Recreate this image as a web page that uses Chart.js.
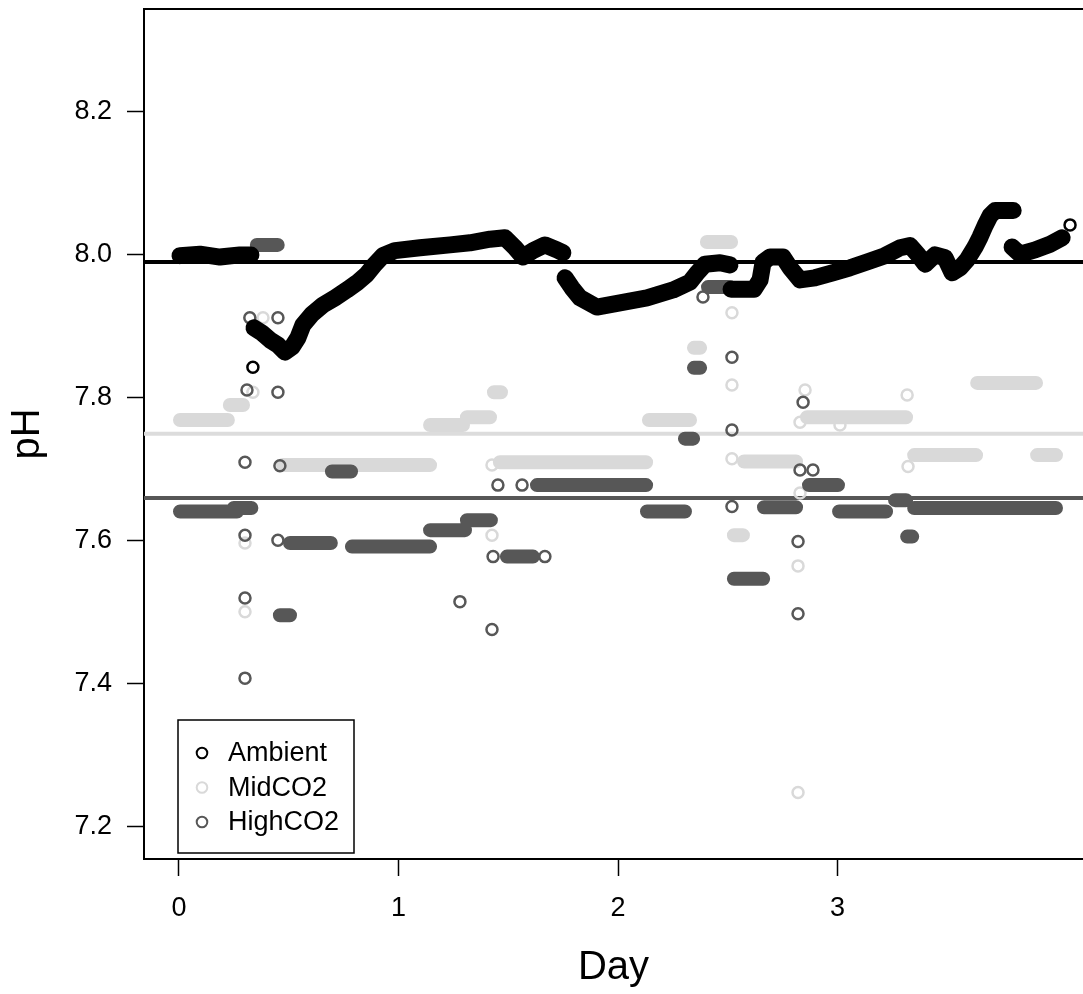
<!DOCTYPE html>
<html>
<head>
<meta charset="utf-8">
<script src="https://cdn.jsdelivr.net/npm/chart.js@4.4.0/dist/chart.umd.min.js"></script>
<style>
  html, body { margin: 0; padding: 0; background: #fff; overflow: hidden; }
  #wrap { width: 1083px; height: 994px; }
</style>
</head>
<body>
<div id="wrap"><canvas id="phChart"></canvas></div>
<script>
// Axis ticks
const dayTicks = [0, 1, 2, 3];
const phTicks = [7.2, 7.4, 7.6, 7.8, 8.0, 8.2];

// Target pH of each treatment (horizontal lines)
const ambientTarget = 7.99;
const midTarget = 7.75;
const highTarget = 7.66;

// Ambient tank trace, null pH = break in the record
const ambientDay = [0.005, 0.096, 0.187, 0.278, 0.328, 0.33,
  0.342, 0.378, 0.415, 0.451, 0.483, 0.515, 0.542, 0.565, 0.606, 0.656, 0.711, 0.765, 0.811, 0.856,
  0.893, 0.929, 0.984, 1.098, 1.235, 1.326, 1.417, 1.485, 1.531, 1.567, 1.613, 1.667, 1.722, 1.749, 1.75,
  1.759, 1.790, 1.827, 1.904, 2.009, 2.132, 2.251, 2.328, 2.364, 2.396, 2.465, 2.510, 2.51,
  2.515, 2.620, 2.647, 2.661, 2.692, 2.752, 2.784, 2.829, 2.897, 2.979, 3.057, 3.134, 3.216, 3.285,
  3.330, 3.367, 3.399, 3.444, 3.490, 3.522, 3.558, 3.590, 3.626, 3.649, 3.672, 3.695, 3.718, 3.800, 3.80,
  3.795, 3.831, 3.900, 3.968, 4.023];
const ambientPH = [7.999, 8.001, 7.997, 8.0, 8.0, null,
  7.898, 7.891, 7.881, 7.874, 7.864, 7.871, 7.884, 7.902, 7.917, 7.930, 7.940, 7.951, 7.961, 7.973,
  7.987, 7.999, 8.006, 8.010, 8.014, 8.017, 8.022, 8.024, 8.010, 7.997, 8.006, 8.014, 8.007, 8.003, null,
  7.968, 7.954, 7.940, 7.927, 7.933, 7.940, 7.951, 7.962, 7.976, 7.987, 7.989, 7.986, null,
  7.952, 7.952, 7.965, 7.990, 7.997, 7.997, 7.982, 7.965, 7.968, 7.975, 7.982, 7.990, 7.999, 8.010,
  8.013, 8.0, 7.987, 8.0, 7.996, 7.975, 7.982, 7.993, 8.011, 8.025, 8.041, 8.055, 8.062, 8.062, null,
  8.011, 8.001, 8.007, 8.015, 8.024];
const ambientPtDay = [0.337, 4.059];
const ambientPtPH = [7.843, 8.042];

// MidCO2: runs of equal readings (start day, end day, pH) and single readings
const midRunStart = [0.005, 0.232, 0.474, 1.144, 1.312, 1.435, 1.462, 2.141, 2.346, 2.405, 2.528, 2.574, 2.861, 3.349, 3.636, 3.909];
const midRunEnd   = [0.223, 0.292, 1.144, 1.294, 1.417, 1.467, 2.128, 2.328, 2.374, 2.515, 2.569, 2.811, 3.312, 3.631, 3.904, 3.995];
const midRunPH    = [7.769, 7.790, 7.706, 7.762, 7.773, 7.808, 7.710, 7.769, 7.870, 8.018, 7.608, 7.711, 7.773, 7.720, 7.821, 7.720];
const midPtDay = [0.383, 0.337, 0.301, 0.301, 1.426, 1.426, 2.519, 2.519, 2.519, 2.852, 2.829, 2.829, 2.820, 2.820, 3.011, 3.317, 3.321];
const midPtPH  = [7.912, 7.808, 7.597, 7.501, 7.706, 7.608, 7.919, 7.818, 7.715, 7.811, 7.766, 7.667, 7.565, 7.248, 7.762, 7.804, 7.704];

// HighCO2
const highRunStart = [0.005, 0.250, 0.355, 0.460, 0.506, 0.697, 0.788, 1.144, 1.312, 1.494, 1.631, 2.132, 2.305, 2.346, 2.410, 2.528, 2.665, 2.870, 3.007, 3.262, 3.317, 3.349];
const highRunEnd   = [0.265, 0.330, 0.450, 0.506, 0.692, 0.784, 1.144, 1.303, 1.421, 1.613, 2.128, 2.305, 2.342, 2.374, 2.510, 2.661, 2.811, 3.002, 3.221, 3.312, 3.340, 3.995];
const highRunPH    = [7.641, 7.646, 8.014, 7.496, 7.597, 7.697, 7.592, 7.615, 7.629, 7.578, 7.678, 7.641, 7.743, 7.842, 7.955, 7.547, 7.647, 7.678, 7.641, 7.657, 7.606, 7.646];
const highPtDay = [0.323, 0.310, 0.301, 0.301, 0.301, 0.301, 0.451, 0.451, 0.460, 0.451, 1.280, 1.431, 1.426, 1.453, 1.563, 1.667,
  2.387, 2.519, 2.519, 2.519, 2.843, 2.829, 2.888, 2.820, 2.820];
const highPtPH  = [7.912, 7.811, 7.710, 7.608, 7.520, 7.408, 7.912, 7.808, 7.705, 7.601, 7.515, 7.578, 7.476, 7.678, 7.678, 7.578,
  7.941, 7.857, 7.755, 7.648, 7.794, 7.699, 7.699, 7.599, 7.498];

// legend entries, top to bottom
const legendNames = ['Ambient', 'MidCO2', 'HighCO2'];

const colAmbient = '#000000';
const colMid = '#d9d9d9';
const colHigh = '#575757';
const fontFamily = '"Liberation Sans", Arial, Helvetica, sans-serif';

function pairPoints(xs, ys) {
  return xs.map((x, i) => ({ x: x, y: ys[i] }));
}

// each run becomes a short horizontal segment, separated by a gap
function runPoints(starts, ends, values) {
  const pts = [];
  starts.forEach((s, i) => {
    pts.push({ x: s, y: values[i] }, { x: ends[i], y: values[i] }, { x: ends[i], y: null });
  });
  return pts;
}

function levelLine(value) {
  return [{ x: -1, y: value }, { x: 5, y: value }];
}

function runSet(data, color, width, order) {
  return {
    data: data, showLine: true, borderColor: color, borderWidth: width,
    borderCapStyle: 'round', borderJoinStyle: 'round', pointRadius: 0,
    spanGaps: false, order: order
  };
}

function pointSet(label, data, color, order) {
  return {
    label: label, data: data, borderColor: color, backgroundColor: 'rgba(0,0,0,0)',
    pointRadius: 5.5, pointBorderWidth: 2.5, showLine: false, order: order
  };
}

function targetSet(value, color, width) {
  return {
    data: levelLine(value), showLine: true, borderColor: color, borderWidth: width,
    pointRadius: 0, order: 9
  };
}

// no auto padding: the plot box sits at fixed offsets
function noPadding(scale) {
  scale.paddingTop = 0;
  scale.paddingBottom = 0;
  scale.paddingLeft = 0;
  scale.paddingRight = 0;
}

// plot frame: top edge (left/bottom come from the axis borders)
const frameTop = {
  id: 'frameTop',
  afterDraw(chart) {
    const { ctx, chartArea } = chart;
    ctx.save();
    ctx.strokeStyle = '#000';
    ctx.lineWidth = 2;
    ctx.beginPath();
    ctx.moveTo(chartArea.left - 1, chartArea.top);
    ctx.lineTo(chartArea.right, chartArea.top);
    ctx.stroke();
    ctx.restore();
  }
};

// boxed legend in the lower left corner of the plot
const boxLegend = {
  id: 'boxLegend',
  afterDraw(chart) {
    const { ctx, chartArea } = chart;
    const sets = chart.data.datasets;
    const left = chartArea.left + 34;
    const bottom = chartArea.bottom - 6;
    const w = 176, h = 133;
    ctx.save();
    ctx.fillStyle = '#fff';
    ctx.fillRect(left, bottom - h, w, h);
    ctx.strokeStyle = '#000';
    ctx.lineWidth = 1.5;
    ctx.strokeRect(left, bottom - h, w, h);
    ctx.font = '27px ' + fontFamily;
    ctx.textBaseline = 'middle';
    legendNames.forEach((name, i) => {
      const d = sets.find(s => s.label === name);
      const cy = bottom - h + 33 + i * 34.5;
      ctx.beginPath();
      ctx.arc(left + 24, cy, 5.3, 0, Math.PI * 2);
      ctx.strokeStyle = d.borderColor;
      ctx.lineWidth = 2;
      ctx.stroke();
      ctx.fillStyle = '#000';
      ctx.fillText(name, left + 50, cy + 1);
    });
    ctx.restore();
  }
};

new Chart(document.getElementById('phChart'), {
  type: 'scatter',
  data: {
    datasets: [
      targetSet(ambientTarget, '#000000', 4),
      targetSet(midTarget, '#dcdcdc', 4),
      targetSet(highTarget, '#575757', 4),
      runSet(runPoints(midRunStart, midRunEnd, midRunPH), colMid, 14, 6),
      pointSet('MidCO2', pairPoints(midPtDay, midPtPH), colMid, 6),
      runSet(runPoints(highRunStart, highRunEnd, highRunPH), colHigh, 14, 4),
      pointSet('HighCO2', pairPoints(highPtDay, highPtPH), colHigh, 4),
      runSet(pairPoints(ambientDay, ambientPH), colAmbient, 17, 1),
      pointSet('Ambient', pairPoints(ambientPtDay, ambientPtPH), colAmbient, 1)
    ]
  },
  options: {
    responsive: true,
    maintainAspectRatio: false,
    animation: false,
    layout: { autoPadding: false, padding: { top: 9, left: 0, right: 0, bottom: 0 } },
    plugins: { legend: { display: false }, tooltip: { enabled: false } },
    scales: {
      x: {
        type: 'linear',
        min: -0.159,
        max: 4.118,
        afterFit(scale) { scale.height = 135; noPadding(scale); },
        afterBuildTicks(scale) { scale.ticks = dayTicks.map(v => ({ value: v })); },
        grid: { drawOnChartArea: false, drawTicks: true, tickLength: 17, tickColor: '#000', tickWidth: 1.5 },
        border: { display: true, color: '#000', width: 2 },
        ticks: { color: '#000', padding: 16, font: { size: 27, family: fontFamily }, maxRotation: 0 },
        title: { display: true, text: 'Day', color: '#000', font: { size: 40, family: fontFamily }, padding: { top: 0, bottom: 2 } }
      },
      y: {
        type: 'linear',
        min: 7.155,
        max: 8.344,
        afterFit(scale) { scale.width = 144; noPadding(scale); },
        afterBuildTicks(scale) { scale.ticks = phTicks.map(v => ({ value: v })); },
        grid: { drawOnChartArea: false, drawTicks: true, tickLength: 17, tickColor: '#000', tickWidth: 1.5 },
        border: { display: true, color: '#000', width: 2 },
        ticks: { color: '#000', padding: 15, font: { size: 27, family: fontFamily }, callback: v => v.toFixed(1) },
        title: { display: true, text: 'pH', color: '#000', font: { size: 40, family: fontFamily }, padding: { top: 4, bottom: 0 } }
      }
    }
  },
  plugins: [frameTop, boxLegend]
});
</script>
</body>
</html>
